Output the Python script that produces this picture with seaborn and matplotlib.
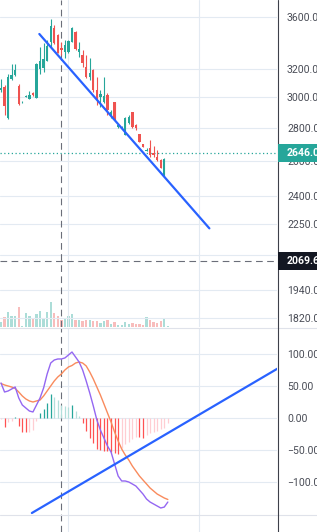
import matplotlib
matplotlib.use("Agg")
import matplotlib.pyplot as plt
import matplotlib.ticker as mticker
from matplotlib.patches import Rectangle
from matplotlib.lines import Line2D
import numpy as np
import pandas as pd
import seaborn as sns

# ---------------- data ----------------
opens  = [3051, 3072, 2864, 3128, 3157, 3079, 2966, 3003, 2990, 3030,
          2996, 3200, 3207, 3258, 3402, 3511, 3456, 3356, 3325, 3325,
          3402, 3480, 3325, 3303, 3214, 3142, 3193, 3051, 3003, 2969,
          3017, 2883, 2969, 2806, 2799, 2755, 2831, 2903, 2818, 2762,
          2700, 2660, 2675, 2645, 2621, 2604, 2511, 2644]
highs  = [3128, 3086, 3164, 3236, 3236, 3093, 2978, 3016, 3044, 3037,
          3244, 3363, 3394, 3417, 3584, 3535, 3463, 3402, 3417, 3417,
          3519, 3488, 3402, 3341, 3303, 3281, 3200, 3142, 3051, 3142,
          3030, 2916, 2969, 2825, 2812, 2870, 2883, 2903, 2825, 2762,
          2700, 2675, 2724, 2688, 2663, 2610, 2615, 2648]
lows   = [3037, 2883, 2857, 3121, 3150, 2952, 2962, 3000, 2988, 3010,
          2994, 3164, 3178, 3258, 3363, 3390, 3318, 3303, 3281, 3320,
          3398, 3344, 3288, 3214, 3135, 3121, 3037, 2949, 2936, 2962,
          2883, 2864, 2851, 2799, 2793, 2755, 2825, 2799, 2787, 2712,
          2681, 2657, 2621, 2621, 2598, 2557, 2505, 2644]
closes = [3065, 2942, 3142, 3157, 3193, 2956, 2972, 3007, 3017, 3017,
          3236, 3258, 3273, 3371, 3527, 3394, 3318, 3341, 3379, 3409,
          3511, 3348, 3348, 3244, 3142, 3171, 3051, 2990, 3024, 3010,
          2916, 2903, 2857, 2818, 2806, 2864, 2870, 2806, 2799, 2712,
          2681, 2663, 2633, 2633, 2604, 2557, 2610, 2648]
volumes = [5.0, 10, 15, 11, 11, 20, 1.3, 14, 11, 8,
           13, 16, 8, 15, 26, 14, 11, 7, 9, 11,
           13, 7, 7, 6, 7, 7, 6, 6, 4, 6,
           7, 3, 5, 2, 2, 5, 3, 4, 3, 3,
           2, 10, 7, 5, 4, 6, 8, 1]
macd_line = [54.7, 40.6, 42.2, 45.3, 48.4, 31.3, 20.3, 15.6, 10.9, 9.4,
             20.3, 31.3, 46.9, 68.8, 85.9, 90.6, 92.2, 92.2, 93.8, 98.4,
             103.1, 95.3, 87.5, 75.0, 57.8, 39.1, 18.8, -3.1, -18.8, -31.3,
             -43.8, -53.1, -71.9, -90.6, -98.4, -98.4, -100.0, -103.1, -106.3, -112.5,
             -118.8, -126.6, -131.3, -134.4, -137.5, -140.6, -139.1, -131.3]
signal_line = [53.9, 51.6, 50.0, 48.4, 46.1, 40.6, 34.4, 29.7, 26.6, 25.0,
               26.6, 28.1, 34.4, 42.2, 50.0, 57.8, 64.1, 68.8, 75.0, 79.7,
               82.0, 85.9, 87.5, 85.9, 81.3, 71.9, 60.9, 48.4, 35.9, 21.9,
               7.8, -6.3, -21.9, -35.9, -48.4, -57.8, -65.6, -75.0, -82.8, -90.6,
               -96.9, -103.1, -109.4, -114.1, -118.8, -121.9, -125.0, -127.3]
histogram = [-2.3, -13.6, -5.8, -4.7, 1.6, -12.5, -21.4, -21.9, -21.4, -18.8,
             -4.7, 7.3, 14.1, 23.9, 37.5, 33.3, 28.1, 20.3, 18.8, 17.7,
             20.3, 11.4, 3.1, -8.3, -20.3, -30.8, -39.1, -49.2, -50.0, -50.8,
             -51.6, -53.1, -54.7, -55.5, -46.9, -40.6, -37.0, -33.3, -29.2, -29.7,
             -30.5, -26.6, -23.9, -21.4, -19.8, -17.7, -16.1, -8.3]

price_ticks = [3600, 3200, 3000, 2800, 2600, 2400, 2250, 2100, 1940, 1820]
price_tick_labels = ["3600.0", "3200.0", "3000.0", "2800.0", "2600.0",
                     "2400.0", "2250.0", "", "1940.0", "1820.0"]
macd_ticks = [100, 50, 0, -50, -100]
macd_tick_labels = ["100.00", "50.00", "0.00", "\u221250.00", "\u2212100.00"]
last_price = 2646.0
cross_price = 2069.6
cross_bar = 17
time_grid = [18.87, 55.8]
trend_price_x, trend_price_y = [10.8, 58.7], [3464, 2230]
trend_macd_x, trend_macd_y = [8.7, 80.0], [-148.4, 84.0]

# ---------------- style ----------------
sns.set_theme(style="white")
plt.rcParams['font.family'] = ['Roboto', 'DejaVu Sans']

UP, DOWN = '#26a69a', '#ef5350'
GRID = '#e3eaf2'
LABEL = '#4a4d57'
PURPLE, ORANGE = '#9467f2', '#f98b5d'
BLUE = '#2962ff'
CROSS = '#6b6e79'

W, H = 317, 532
fig = plt.figure(figsize=(W / 100, H / 100), dpi=100)
fig.patch.set_facecolor('white')

axp = fig.add_axes([0, (H - 327) / H, 277 / W, 327 / H])
axv = fig.add_axes([0, (H - 327) / H, 277 / W, 327 / H], sharex=axp)
axm = fig.add_axes([0, 0, 277 / W, 204 / H], sharex=axp)

n = len(closes)
df = pd.DataFrame({
    'bar': np.arange(n), 'open': opens, 'high': highs, 'low': lows,
    'close': closes, 'volume': volumes, 'macd': macd_line,
    'signal': signal_line, 'hist': histogram,
})
df['up'] = df['close'] >= df['open']
cols = np.where(df['up'], UP, DOWN)

# ---------------- price pane ----------------
axp.set_yscale('log')
axp.set_ylim(1783.3, 3741.4)
axp.set_xlim(-0.282, 77.75)
axp.set_facecolor('none')
axp.set_zorder(2)
axv.set_zorder(1)

axp.vlines(df['bar'], df['low'], df['high'], colors=cols, lw=0.8, zorder=3)
axp.bar(df['bar'], (df['close'] - df['open']).abs(),
        bottom=df[['open', 'close']].min(axis=1), width=0.66,
        color=cols, lw=0, zorder=4)

axp.axhline(last_price, color=UP, lw=0.9, ls=(0, (1, 2)), zorder=2)
axp.axhline(cross_price, color=CROSS, lw=0.8, ls=(0, (6, 4)), zorder=2)
axp.axvline(cross_bar, color=CROSS, lw=0.8, ls=(0, (6, 4)), zorder=2)
axp.plot(trend_price_x, trend_price_y, color=BLUE, lw=1.6,
         solid_capstyle='round', zorder=6)

axp.yaxis.set_major_locator(mticker.FixedLocator(price_ticks))
axp.yaxis.set_minor_locator(mticker.NullLocator())
axp.yaxis.set_major_formatter(mticker.FixedFormatter(price_tick_labels))
axp.yaxis.set_minor_formatter(mticker.NullFormatter())
axp.set_xticks(time_grid)
axp.grid(True, color=GRID, lw=0.8)
axp.set_axisbelow(True)
axp.yaxis.tick_right()
axp.tick_params(axis='y', length=0, pad=7.2, labelsize=7.6, labelcolor=LABEL)
axp.tick_params(axis='x', length=0, labelbottom=False)
for s in axp.spines.values():
    s.set_visible(False)

# volume overlay
vcols = np.where(df['up'], UP, DOWN)
axv.bar(df['bar'], df['volume'], width=0.66, color=vcols, alpha=0.38, lw=0)
axv.set_ylim(0, max(volumes) * 327 / 25.5)
axv.axis('off')

# ---------------- MACD pane ----------------
axm.set_ylim(-178.1, 140.6)
axm.set_facecolor('white')
hcols = []
for k, v in enumerate(histogram):
    prev = histogram[k - 1] if k > 0 else v
    if v >= 0:
        hcols.append('#26a69a' if v > prev else '#b2dfdb')
    else:
        hcols.append('#ff5252' if v < prev else '#ffcdd2')
axm.vlines(df['bar'], 0, df['hist'], colors=hcols, lw=0.9, zorder=3)
sns.lineplot(data=df, x='bar', y='signal', ax=axm, color=ORANGE, lw=1.0, zorder=4)
sns.lineplot(data=df, x='bar', y='macd', ax=axm, color=PURPLE, lw=1.0, zorder=5)
axm.plot(trend_macd_x, trend_macd_y, color=BLUE, lw=1.6,
         solid_capstyle='round', zorder=6)
axm.axvline(cross_bar, color=CROSS, lw=0.8, ls=(0, (6, 4)), zorder=2)

axm.set_yticks(macd_ticks)
axm.set_yticklabels(macd_tick_labels)
axm.set_xticks(time_grid)
axm.grid(True, color=GRID, lw=0.8)
axm.set_axisbelow(True)
axm.yaxis.tick_right()
axm.tick_params(axis='y', length=0, pad=7.2, labelsize=7.6, labelcolor=LABEL)
axm.tick_params(axis='x', length=0, labelbottom=False)
axm.set_xlabel('')
axm.set_ylabel('')
axm.set_xlim(-0.282, 77.75)
for s in axm.spines.values():
    s.set_visible(False)

# ---------------- frame lines ----------------
fig.add_artist(Line2D([277.5 / W, 277.5 / W], [0, 1], transform=fig.transFigure,
                      color='#3d404a', lw=0.8, zorder=10))
for yy in (327.5, 514.5):
    fig.add_artist(Line2D([0, 1], [1 - yy / H, 1 - yy / H], transform=fig.transFigure,
                          color='#dfe2ea', lw=0.8, zorder=9))

# ---------------- price badges ----------------
def badge(value, text, face):
    yd = axp.transData.transform((0, value))[1]
    fig.add_artist(Rectangle((277.5 / W, (yd - 9) / H), 45 / W, 18 / H,
                             transform=fig.transFigure, facecolor=face,
                             edgecolor='none', zorder=11))
    fig.text(287 / W, yd / H, text, color='white', fontsize=7.6,
             fontweight='bold', va='center', ha='left', zorder=12)

badge(last_price, f"{last_price:.1f}", UP)
badge(cross_price, f"{cross_price:.1f}", '#131722')

fig.savefig('out.png', dpi=100, facecolor='white')
